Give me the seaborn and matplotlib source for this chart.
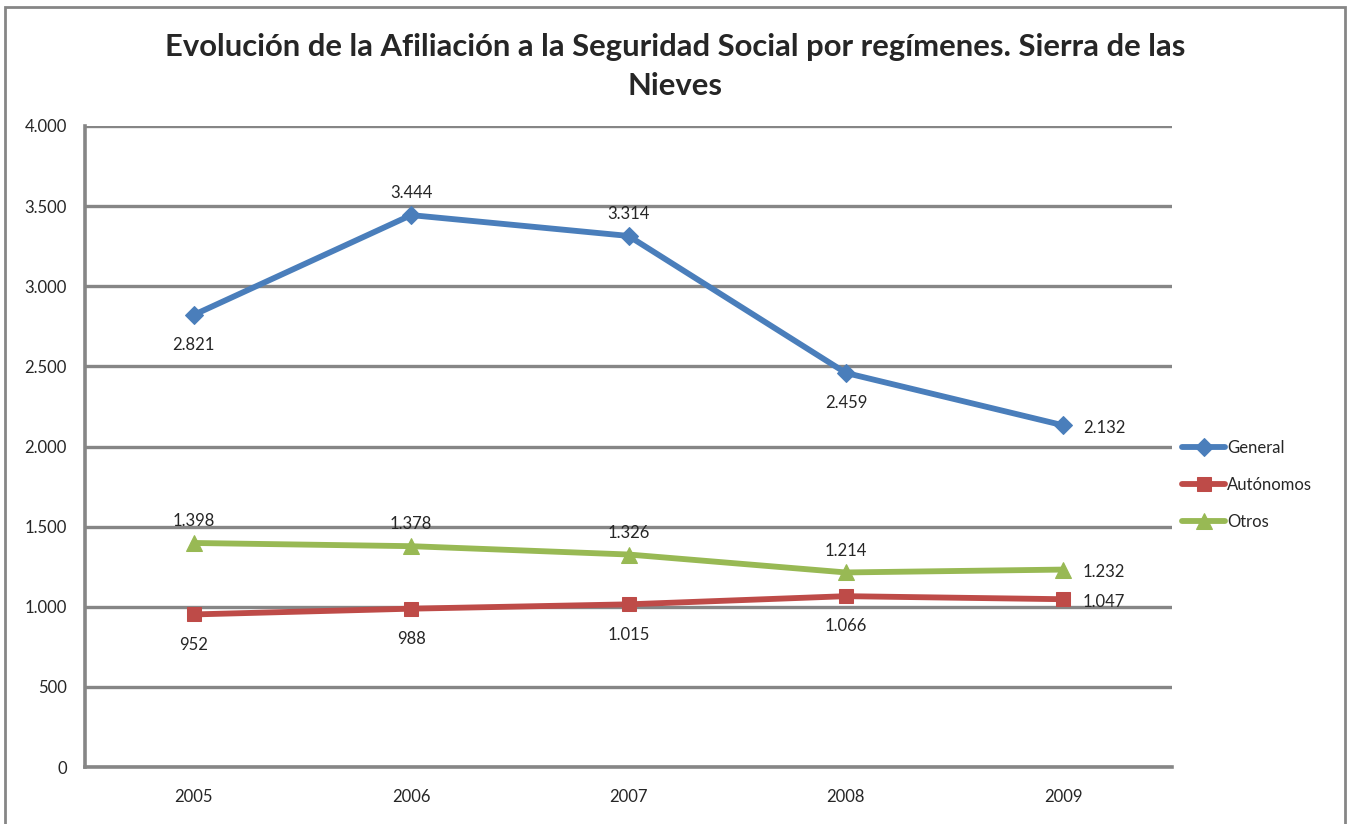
import matplotlib
matplotlib.use("Agg")
import matplotlib.pyplot as plt
import seaborn as sns
import pandas as pd
from matplotlib.patches import Rectangle

years = ["2005", "2006", "2007", "2008", "2009"]
general = [2821, 3444, 3314, 2459, 2132]
autonomos = [952, 988, 1015, 1066, 1047]
otros = [1398, 1378, 1326, 1214, 1232]
series_names = ["General", "Autónomos", "Otros"]
yticks = [0, 500, 1000, 1500, 2000, 2500, 3000, 3500, 4000]

df = pd.DataFrame({
    "year": years * 3,
    "value": general + autonomos + otros,
    "serie": [series_names[0]] * 5 + [series_names[1]] * 5 + [series_names[2]] * 5,
})

sns.set_style("white")
plt.rcParams['font.family'] = ['Lato', 'DejaVu Sans']

fig = plt.figure(figsize=(13.51, 8.24), dpi=100)
ax = fig.add_axes([85 / 1351, 1 - 767 / 824, (1172 - 85) / 1351, (767 - 126) / 824])

colors = ["#4A7EBB", "#BE4B48", "#98B954"]
markers = ["D", "s", "^"]
msizes = [9, 10, 11]
for name, c, m, ms in zip(series_names, colors, markers, msizes):
    sub = df[df.serie == name]
    sns.lineplot(data=sub, x="year", y="value", ax=ax, color=c, lw=4.2,
                 marker=m, markersize=ms, markeredgecolor=c, label=name,
                 sort=False)

ax.set_xlim(-0.5, 4.5)
ax.set_ylim(0, 4000)
ax.set_yticks(yticks)
ax.set_yticklabels([f"{v:,}".replace(",", ".") for v in yticks], fontsize=12)
ax.set_xticks(range(5))
ax.set_xticklabels(years, fontsize=12)
ax.set_xlabel("")
ax.set_ylabel("")
ax.tick_params(axis="x", length=0, pad=16)
ax.tick_params(axis="y", length=0, pad=13)
ax.grid(axis="y", color="#868686", lw=2.4)
ax.set_axisbelow(True)
for s in ["top", "right"]:
    ax.spines[s].set_visible(False)
for s in ["left", "bottom"]:
    ax.spines[s].set_color("#868686")
    ax.spines[s].set_linewidth(2.6)


def fmt(v):
    return f"{v:,}".replace(",", ".")


def label(i, v, pos):
    if pos == "above":
        ax.annotate(fmt(v), (i, v), xytext=(0, 10), textcoords="offset points",
                    ha="center", va="bottom", fontsize=12)
    elif pos == "below":
        ax.annotate(fmt(v), (i, v), xytext=(0, -16), textcoords="offset points",
                    ha="center", va="top", fontsize=12)
    else:
        ax.annotate(fmt(v), (i, v), xytext=(14, -2), textcoords="offset points",
                    ha="left", va="center", fontsize=12)


gen_pos = ["below", "above", "above", "below", "right"]
aut_pos = ["below", "below", "below", "below", "right"]
otr_pos = ["above", "above", "above", "above", "right"]
for i in range(5):
    label(i, general[i], gen_pos[i])
    label(i, autonomos[i], aut_pos[i])
    label(i, otros[i], otr_pos[i])

leg = ax.legend(loc="center left", bbox_to_anchor=(1.0, 0.44), frameon=False,
                fontsize=12, handlelength=2.6, handletextpad=0.1, labelspacing=1.25,
                borderaxespad=0.2)

fig.text(675 / 1351, 1 - 66.5 / 824,
         "Evolución de la Afiliación a la Seguridad Social por regímenes. Sierra de las\nNieves",
         ha="center", va="center", fontsize=22.3, fontweight="bold", linespacing=1.45)

fig.patches.append(Rectangle((5 / 1351, -0.05), (1345 - 5) / 1351, 1.05 - 7 / 824,
                             transform=fig.transFigure, fill=False,
                             edgecolor="#868686", lw=2))

fig.savefig("out.png", dpi=100)
